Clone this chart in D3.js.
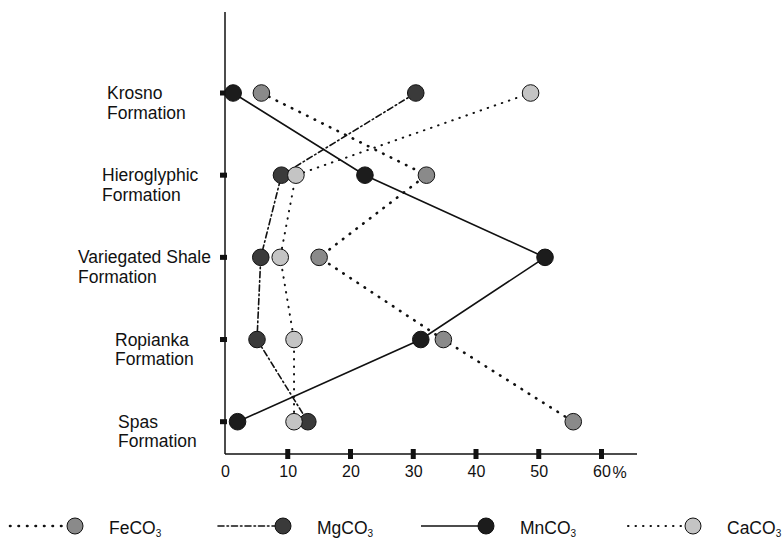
<!DOCTYPE html>
<html>
<head>
<meta charset="utf-8">
<script src="https://cdn.jsdelivr.net/npm/d3@7"></script>
<style>
  body { margin: 0; background: #fff; }
  svg { font-family: "Liberation Sans", Arial, sans-serif; }
</style>
</head>
<body>
<svg id="chart" width="783" height="538"></svg>
<script>
// data: percentages by formation (top to bottom)
const formations = ['Krosno', 'Hieroglyphic', 'Variegated Shale', 'Ropianka', 'Spas'];
const feco3 = [5.8, 32.1, 15.0, 34.8, 55.5];
const mgco3 = [30.4, 9.0, 5.7, 5.1, 13.2];
const mnco3 = [1.3, 22.3, 51.0, 31.2, 2.0];
const caco3 = [48.7, 11.3, 8.8, 11.0, 11.0];
const xTicks = [0, 10, 20, 30, 40, 50, 60];

// layout
const labelX = [107, 102, 78, 115, 118];
const axisLeft = 225, axisRight = 637, axisTop = 12, axisBottom = 454;

const series = [
    { name: 'MnCO', values: mnco3, fill: '#1c1c1c', dash: null, width: 1.6 },
    { name: 'MgCO', values: mgco3, fill: '#3a3a3a', dash: '6,3,1.5,3', width: 1.6 },
    { name: 'FeCO', values: feco3, fill: '#8a8a8a', dash: '0.5,8', width: 2.6 },
    { name: 'CaCO', values: caco3, fill: '#c4c4c4', dash: '0.5,7', width: 2 },
];
const legendOrder = ['FeCO', 'MgCO', 'MnCO', 'CaCO'];
const legendX = [10, 218, 421, 628];

const svg = d3.select('#chart');

const x = d3.scaleLinear().domain([0, 60]).range([axisLeft, 601.5]);
const y = d3.scalePoint().domain(formations).range([93, 421.7]);

// axes lines
svg.append('line')
    .attr('x1', axisLeft).attr('x2', axisLeft)
    .attr('y1', axisTop).attr('y2', axisBottom)
    .attr('stroke', '#111').attr('stroke-width', 1.5);
svg.append('line')
    .attr('x1', axisLeft).attr('x2', axisRight)
    .attr('y1', axisBottom).attr('y2', axisBottom)
    .attr('stroke', '#111').attr('stroke-width', 1.5);

// x axis labels
const xAxisG = svg.append('g')
    .attr('transform', `translate(0,${axisBottom})`)
    .call(d3.axisBottom(x).tickValues(xTicks).tickSize(0).tickPadding(12));
xAxisG.select('.domain').remove();
xAxisG.selectAll('text')
    .attr('font-size', 16)
    .attr('fill', '#111')
    .attr('font-family', '"Liberation Sans", Arial, sans-serif');
svg.append('text')
    .attr('x', x(60) + 11).attr('y', axisBottom + 24)
    .attr('font-size', 16).attr('fill', '#111')
    .text('%');

// x tick marks
svg.selectAll('.xtick')
    .data(xTicks.filter(d => d > 0))
    .join('rect')
    .attr('x', d => x(d) - 2.5).attr('y', axisBottom - 5)
    .attr('width', 5).attr('height', 10)
    .attr('fill', '#111');

// y tick marks
svg.selectAll('.ytick')
    .data(formations)
    .join('rect')
    .attr('x', axisLeft - 5).attr('y', d => y(d) - 2.5)
    .attr('width', 7).attr('height', 5)
    .attr('fill', '#111');

// formation labels
formations.forEach((f, i) => {
    const t = svg.append('text')
        .attr('font-size', 17.5).attr('fill', '#111');
    t.append('tspan').attr('x', labelX[i]).attr('y', y(f) + 6).text(f);
    t.append('tspan').attr('x', labelX[i]).attr('y', y(f) + 25.5).text('Formation');
});

// lines
const line = d3.line()
    .x(d => x(d.v))
    .y(d => y(d.f));

series.forEach(s => {
    const pts = s.values.map((v, i) => ({ v: v, f: formations[i] }));
    svg.append('path')
        .attr('d', line(pts))
        .attr('fill', 'none')
        .attr('stroke', '#111')
        .attr('stroke-width', s.width)
        .attr('stroke-dasharray', s.dash)
        .attr('stroke-linecap', s.dash ? 'round' : 'butt');
});

// markers
series.forEach(s => {
    const pts = s.values.map((v, i) => ({ v: v, f: formations[i] }));
    svg.selectAll(null)
        .data(pts)
        .join('circle')
        .attr('cx', d => x(d.v))
        .attr('cy', d => y(d.f))
        .attr('r', 8.3)
        .attr('fill', s.fill)
        .attr('stroke', '#111')
        .attr('stroke-width', 1);
});

// legend
const legY = 526;
legendOrder.forEach((name, i) => {
    const s = series.find(d => d.name === name);
    const lx = legendX[i];
    svg.append('line')
        .attr('x1', lx).attr('x2', lx + 58)
        .attr('y1', legY).attr('y2', legY)
        .attr('stroke', '#111')
        .attr('stroke-width', s.width)
        .attr('stroke-dasharray', s.dash)
        .attr('stroke-linecap', s.dash ? 'round' : 'butt');
    svg.append('circle')
        .attr('cx', lx + 65).attr('cy', legY)
        .attr('r', 8)
        .attr('fill', s.fill)
        .attr('stroke', '#111').attr('stroke-width', 1);
    const t = svg.append('text')
        .attr('x', lx + 99).attr('y', legY + 8)
        .attr('font-size', 17.5).attr('fill', '#111');
    t.append('tspan').text(name);
    t.append('tspan').attr('font-size', 10).attr('dy', 3).text('3');
});
</script>
</body>
</html>
